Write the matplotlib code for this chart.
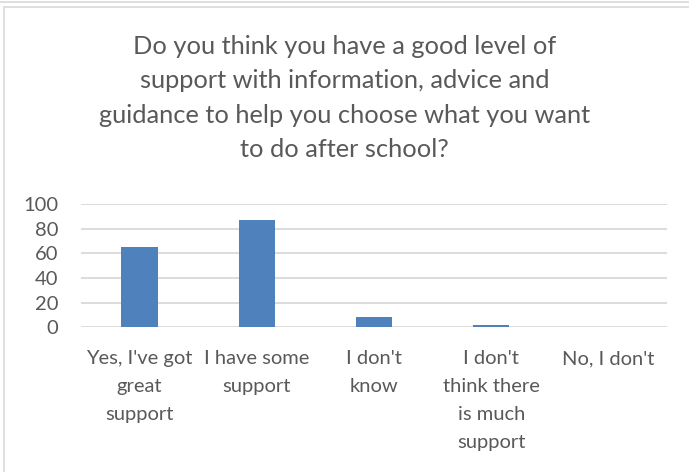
import matplotlib
matplotlib.use("Agg")
import matplotlib.pyplot as plt
from matplotlib.patches import Rectangle
from matplotlib.lines import Line2D

title = ("Do you think you have a good level of\n"
         "support with information, advice and\n"
         "guidance to help you choose what you want\n"
         "to do after school?")
categories = ["Yes, I've got\ngreat\nsupport",
              "I have some\nsupport",
              "I don't\nknow",
              "I don't\nthink there\nis much\nsupport",
              "No, I don't"]
values = [65, 87, 8, 2, 0]
yticks = [0, 20, 40, 60, 80, 100]

TEXT = "#595959"
BAR = "#4F81BD"
GRID = "#D9D9D9"
FONT = ["Lato", "DejaVu Sans"]

W, H = 689, 472
fig = plt.figure(figsize=(W / 100, H / 100), dpi=100)
fig.patch.set_facecolor("white")

# chart frame and the edge of the panel above it
fig.add_artist(Line2D([0, 1], [1 - 2 / H, 1 - 2 / H], transform=fig.transFigure,
                      color="#D9D9D9", lw=1.2))
fig.add_artist(Rectangle((4 / W, -0.1), 1.2, 1 - 7 / H + 0.1, transform=fig.transFigure,
                         fill=False, edgecolor="#D9D9D9", lw=1.2))

ax = fig.add_axes([81 / W, 1 - 327.3 / H, (667 - 81) / W, (327.3 - 204) / H])
x = list(range(len(categories)))
ax.bar(x, values, width=0.31, color=BAR, zorder=3)
ax.set_xlim(-0.5, len(categories) - 0.5)
ax.set_ylim(0, 100)
ax.set_yticks(yticks)
ax.set_yticklabels([str(t) for t in yticks], fontsize=14.5, color=TEXT, family=FONT)
ax.set_xticks(x)
ax.set_xticklabels(categories, fontsize=14.5, color=TEXT, family=FONT,
                   linespacing=1.78, va="top")
ax.tick_params(axis="y", length=0, pad=16.3)
ax.tick_params(axis="x", length=0, pad=16.5)
ax.grid(axis="y", color=GRID, lw=1.3, zorder=0)
for s in ax.spines.values():
    s.set_visible(False)

fig.text(0.5, 1 - 35 / H, title, ha="center", va="top", fontsize=18.3,
         color=TEXT, family=FONT, linespacing=1.6)

fig.savefig("out.png", dpi=100)
